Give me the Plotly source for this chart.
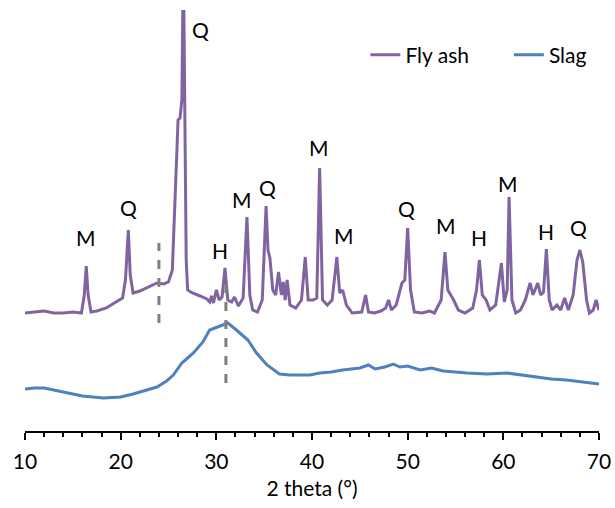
import plotly.graph_objects as go

# ---- data (arbitrary intensity units) ----
fly_ash_2theta = [10.0, 11.0, 12.0, 13.0, 14.0, 15.0, 15.9, 16.2, 16.4, 16.6, 16.9, 17.5, 18.5, 19.5,
                  20.2, 20.5, 20.8, 21.0, 21.3, 22.0, 23.0, 23.8, 24.5, 25.0, 25.4, 25.8, 26.0, 26.2,
                  26.4, 26.55, 26.7, 26.85, 27.0, 27.5, 28.3, 29.0, 29.3, 29.5, 29.7, 30.0, 30.3, 30.6,
                  30.9, 31.2, 31.6, 31.9, 32.3, 32.8, 33.2, 33.5, 33.8, 34.3, 34.8, 35.2, 35.4, 35.6,
                  35.9, 36.2, 36.5, 36.8, 37.0, 37.2, 37.4, 37.7, 38.3, 38.9, 39.3, 39.6, 40.1, 40.5,
                  40.8, 41.1, 41.6, 42.1, 42.6, 42.9, 43.2, 43.6, 44.2, 45.2, 45.6, 45.9, 46.5, 47.2,
                  47.7, 48.0, 48.3, 48.8, 49.4, 49.7, 50.0, 50.3, 50.7, 51.5, 52.3, 52.8, 53.5, 53.9,
                  54.2, 54.5, 54.8, 55.3, 56.0, 56.8, 57.2, 57.5, 57.8, 58.2, 58.6, 59.2, 59.5, 59.8,
                  60.1, 60.4, 60.6, 60.9, 61.3, 61.8, 62.3, 62.8, 63.1, 63.3, 63.6, 63.9, 64.2, 64.5,
                  64.8, 65.1, 65.6, 66.0, 66.4, 66.8, 67.3, 67.7, 68.0, 68.3, 68.7, 69.0, 69.4, 69.7,
                  70.0]
fly_ash_intensity = [118, 119, 120, 118, 118, 119, 118, 136, 165, 136, 119, 120, 123, 129,
                     133, 151, 201, 156, 138, 140, 144, 148, 147, 149, 161, 251, 311, 313,
                     331, 480, 301, 171, 141, 138, 135, 132, 129, 135, 128, 141, 131, 134,
                     163, 131, 129, 134, 125, 133, 214, 136, 121, 119, 131, 225, 181, 173,
                     141, 136, 159, 136, 149, 131, 151, 126, 123, 131, 174, 131, 131, 133,
                     263, 131, 126, 131, 174, 138, 141, 126, 118, 119, 136, 119, 118, 120,
                     123, 131, 121, 126, 148, 151, 203, 141, 119, 118, 120, 118, 131, 179,
                     141, 136, 131, 121, 118, 123, 141, 171, 136, 131, 121, 126, 146, 168,
                     129, 141, 234, 131, 118, 121, 131, 148, 136, 141, 148, 136, 139, 182,
                     131, 121, 126, 121, 133, 121, 136, 171, 181, 169, 131, 118, 121, 131,
                     121]

slag_2theta = [10.0, 11.0, 12.0, 13.0, 14.4, 16.0, 18.2, 20.0, 21.3, 22.5, 23.8, 24.8, 25.5, 26.4,
               27.6, 28.6, 29.3, 30.4, 31.2, 32.1, 33.3, 34.2, 35.3, 36.6, 37.7, 39.8, 40.8, 42.0,
               43.2, 45.0, 45.9, 46.6, 47.6, 48.5, 49.2, 50.0, 51.3, 52.5, 53.7, 56.2, 58.3, 60.4,
               62.0, 63.1, 65.0, 66.6, 68.5, 70.0]
slag_intensity = [42, 43, 43, 41, 38, 35, 33, 34, 37, 40, 44, 50, 56, 68,
                  78, 89, 101, 105, 108, 101, 91, 78, 66, 57, 56, 56, 58, 59,
                  61, 63, 66, 62, 64, 67, 64, 65, 61, 63, 60, 58, 57, 58,
                  56, 54, 52, 51, 49, 47]

# phase labels
label_text = ["M", "Q", "Q", "H", "M", "Q", "M", "M", "Q", "M", "H", "M", "H", "Q"]
label_2theta = [16.4, 20.8, 28.3, 30.4, 32.7, 35.3, 40.7, 43.3, 49.9, 54.0, 57.5, 60.5, 64.5, 67.9]
label_y = [194, 224, 402, 181, 232, 244, 284, 196, 223, 206, 194, 248, 200, 204]

# dashed reference lines
ref_2theta = [24.0, 31.0]
ref_y0 = [108, 48]
ref_y1 = [188, 148]

x_ticks = [10, 20, 30, 40, 50, 60, 70]

FONT = "Lato"
FS = 21
PURPLE = "#8064A2"
BLUE = "#4F81BD"

fig = go.Figure()
fig.add_trace(go.Scatter(x=fly_ash_2theta, y=fly_ash_intensity, mode="lines", name="Fly ash",
                         line=dict(color=PURPLE, width=3), legend="legend"))
fig.add_trace(go.Scatter(x=slag_2theta, y=slag_intensity, mode="lines", name="Slag",
                         line=dict(color=BLUE, width=3), legend="legend2"))

for x, a, b in zip(ref_2theta, ref_y0, ref_y1):
    fig.add_shape(type="line", xref="x", yref="y", x0=x, x1=x, y0=a, y1=b,
                  line=dict(color="#7F7F7F", width=3, dash="dash"), layer="above")

for t, x, y in zip(label_text, label_2theta, label_y):
    fig.add_annotation(x=x, y=y, text=t, showarrow=False, xref="x", yref="y",
                       font=dict(family=FONT, size=FS, color="black"))

leg_common = dict(orientation="h", yanchor="middle", xanchor="left", y=0.893,
                  bgcolor="rgba(0,0,0,0)", font=dict(family=FONT, size=FS, color="black"))

fig.update_layout(
    width=615, height=508,
    margin=dict(l=25, r=16, t=10, b=77, autoexpand=False),
    paper_bgcolor="white", plot_bgcolor="white",
    font=dict(family=FONT, size=FS, color="black"),
    showlegend=True,
    legend=dict(x=0.593, **leg_common),
    legend2=dict(x=0.843, **leg_common),
    xaxis=dict(range=[10, 70], tickvals=x_ticks, showgrid=False, zeroline=False,
               showline=True, linecolor="black", linewidth=1.5, automargin=False,
               ticks="outside", ticklen=7, tickwidth=1.5, tickcolor="black",
               minor=dict(dtick=2, ticks="outside", ticklen=4, tickwidth=1.5, tickcolor="black"),
               ticklabelstandoff=4,
               title=dict(text="2 theta (°)", font=dict(size=FS), standoff=9),
               tickfont=dict(size=FS)),
    yaxis=dict(range=[0, 421], visible=False),
)

fig.write_html("out.html", config={"displayModeBar": False})

# remove the default page margin so the figure sits at the window's top-left corner
with open("out.html", "r", encoding="utf-8") as f:
    html = f.read()
html = html.replace("<head>", "<head><style>html,body{margin:0;padding:0;overflow:hidden;}</style>", 1)
with open("out.html", "w", encoding="utf-8") as f:
    f.write(html)
